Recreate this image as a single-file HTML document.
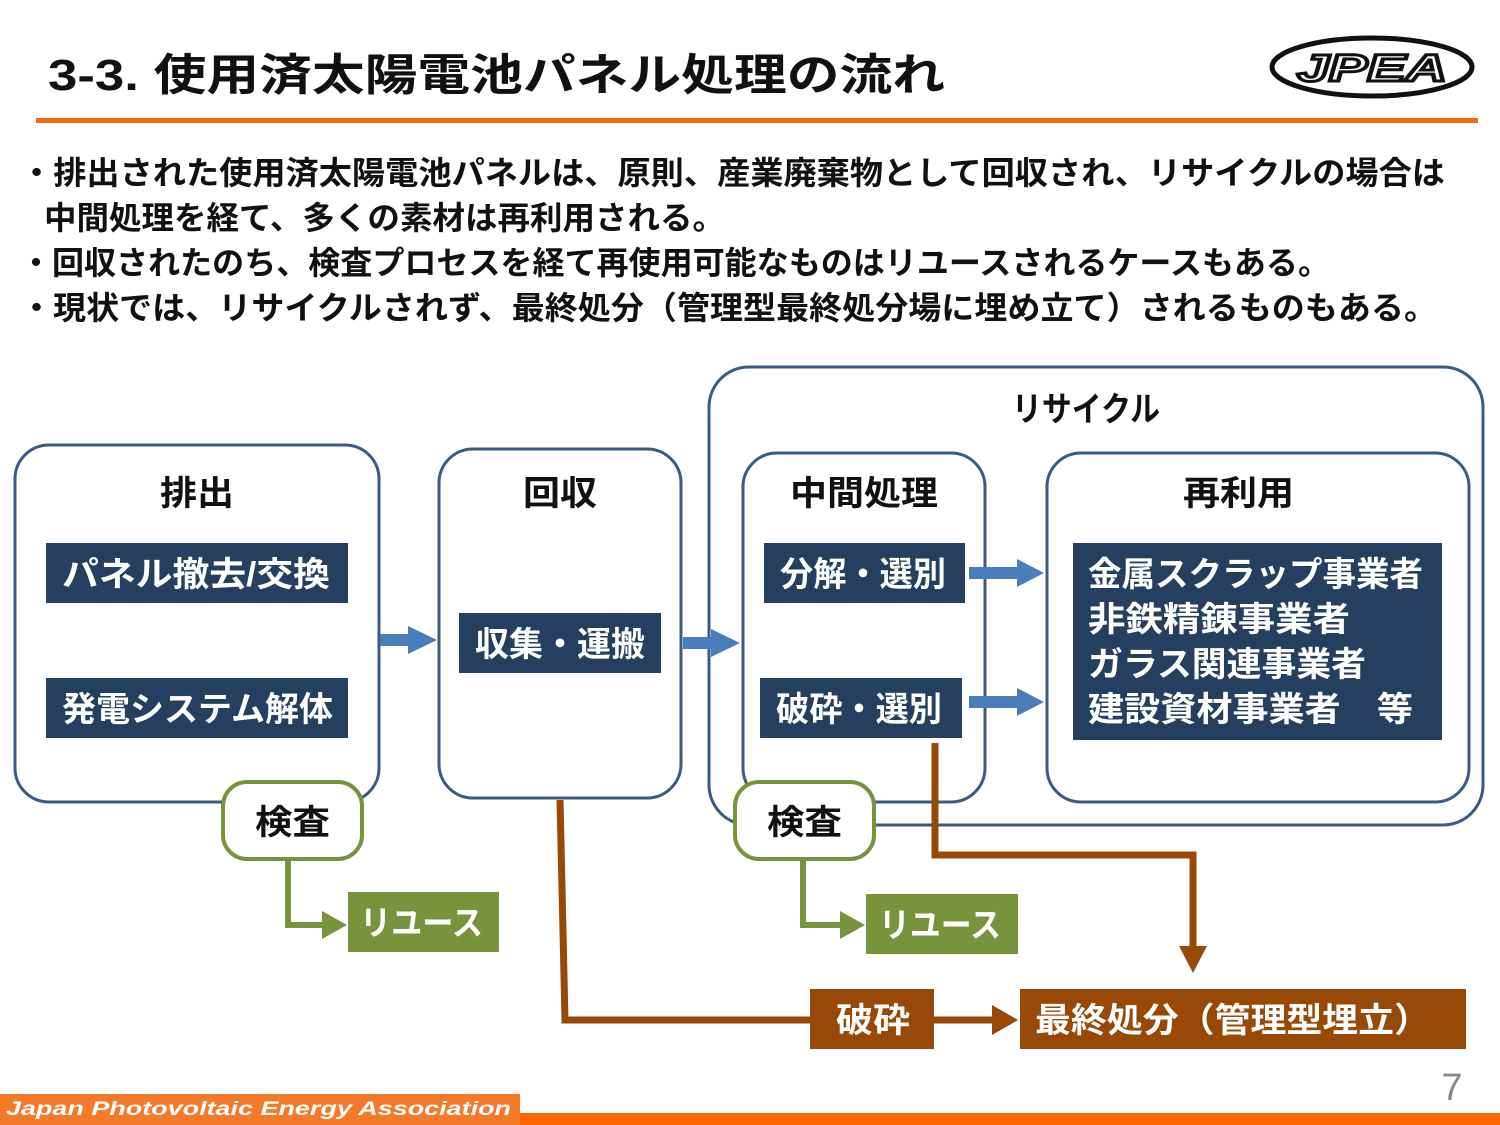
<!DOCTYPE html>
<html><head><meta charset="utf-8"><style>
body{margin:0;width:1500px;height:1125px;overflow:hidden;background:#fff;font-family:"Liberation Sans","Noto Sans CJK JP",sans-serif;}
</style></head><body>
<svg width="1500" height="1125" viewBox="0 0 1500 1125" xmlns="http://www.w3.org/2000/svg" style="position:absolute;left:0;top:0" font-family="Liberation Sans, Noto Sans CJK JP, sans-serif" font-weight="bold">
<text x="48" y="90" font-size="44" fill="#111" textLength="897" lengthAdjust="spacingAndGlyphs">3-3.  使用済太陽電池パネル処理の流れ</text>
<ellipse cx="1372" cy="67" rx="100" ry="29" fill="#fff" stroke="#111" stroke-width="5"/>
<text x="1372" y="81" font-size="38" text-anchor="middle" font-style="italic" fill="#fff" stroke="#111" stroke-width="3" font-family="Liberation Sans, sans-serif" textLength="150" lengthAdjust="spacingAndGlyphs">JPEA</text>
<rect x="36" y="118" width="1442" height="5" fill="#f26b0f"/>
<g font-size="32" fill="#111">
<text x="20" y="184" textLength="1425" lengthAdjust="spacingAndGlyphs">・排出された使用済太陽電池パネルは、原則、産業廃棄物として回収され、リサイクルの場合は</text>
<text x="44" y="229" textLength="681" lengthAdjust="spacingAndGlyphs">中間処理を経て、多くの素材は再利用される。</text>
<text x="20" y="274" textLength="1310" lengthAdjust="spacingAndGlyphs">・回収されたのち、検査プロセスを経て再使用可能なものはリユースされるケースもある。</text>
<text x="20" y="319" textLength="1417" lengthAdjust="spacingAndGlyphs">・現状では、リサイクルされず、最終処分（管理型最終処分場に埋め立て）されるものもある。</text>
</g>
<g fill="#fff" stroke="#3b5a84" stroke-width="3">
<rect x="709" y="367" width="774" height="458" rx="40"/>
<rect x="15" y="445" width="364" height="357" rx="34"/>
<rect x="439" y="449" width="242" height="349" rx="34"/>
<rect x="743" y="453" width="242" height="349" rx="34"/>
<rect x="1047" y="453" width="422" height="349" rx="34"/>
</g>
<g font-size="34" fill="#111">
<text x="1012" y="421" textLength="148" lengthAdjust="spacingAndGlyphs">リサイクル</text>
<text x="160" y="505" textLength="74" lengthAdjust="spacingAndGlyphs">排出</text>
<text x="523" y="505" textLength="74" lengthAdjust="spacingAndGlyphs">回収</text>
<text x="790" y="505" textLength="148" lengthAdjust="spacingAndGlyphs">中間処理</text>
<text x="1183" y="505" textLength="111" lengthAdjust="spacingAndGlyphs">再利用</text>
</g>
<g fill="#243f60">
<rect x="46" y="543" width="302" height="60"/>
<rect x="46" y="678" width="302" height="60"/>
<rect x="459" y="613" width="202" height="60"/>
<rect x="764" y="543" width="201" height="60"/>
<rect x="760" y="678" width="202" height="60"/>
<rect x="1073" y="543" width="369" height="197"/>
</g>
<g font-size="34" fill="#fff">
<text x="62" y="586" textLength="268" lengthAdjust="spacingAndGlyphs">パネル撤去/交換</text>
<text x="62" y="721" textLength="271" lengthAdjust="spacingAndGlyphs">発電システム解体</text>
<text x="475" y="656" textLength="170" lengthAdjust="spacingAndGlyphs">収集・運搬</text>
<text x="780" y="586" textLength="166" lengthAdjust="spacingAndGlyphs">分解・選別</text>
<text x="776" y="721" textLength="166" lengthAdjust="spacingAndGlyphs">破砕・選別</text>
<text x="1088" y="586" textLength="335" lengthAdjust="spacingAndGlyphs">金属スクラップ事業者</text>
<text x="1088" y="631" textLength="262" lengthAdjust="spacingAndGlyphs">非鉄精錬事業者</text>
<text x="1088" y="676" textLength="278" lengthAdjust="spacingAndGlyphs">ガラス関連事業者</text>
<text x="1088" y="721" textLength="325" lengthAdjust="spacingAndGlyphs">建設資材事業者　等</text>
</g>
<g fill="#4a7ebb">
<rect x="380" y="634" width="30" height="12"/><polygon points="408,626 437,640 408,654"/>
<rect x="683" y="637" width="30" height="12"/><polygon points="711,629 740,643 711,657"/>
<rect x="969" y="567" width="50" height="12"/><polygon points="1017,559 1044,573 1017,587"/>
<rect x="969" y="696" width="50" height="12"/><polygon points="1017,688 1044,702 1017,716"/>
</g>
<g fill="none" stroke="#77933c" stroke-width="6">
<polyline points="288,860 288,925 325,925"/>
<polyline points="803,860 803,925 843,925"/>
</g>
<g fill="#77933c">
<polygon points="322,911 347,925 322,939"/>
<polygon points="840,911 865,925 840,939"/>
<rect x="348" y="892" width="151" height="60"/>
<rect x="866" y="894" width="152" height="60"/>
</g>
<g fill="#fff" stroke="#77933c" stroke-width="4">
<rect x="223" y="782" width="139" height="77" rx="24"/>
<rect x="735" y="782" width="139" height="77" rx="24"/>
</g>
<g font-size="34">
<text x="255" y="834" fill="#111" textLength="75" lengthAdjust="spacingAndGlyphs">検査</text>
<text x="767" y="834" fill="#111" textLength="75" lengthAdjust="spacingAndGlyphs">検査</text>
<text x="360" y="935" fill="#fff" textLength="123" lengthAdjust="spacingAndGlyphs">リユース</text>
<text x="879" y="937" fill="#fff" textLength="122" lengthAdjust="spacingAndGlyphs">リユース</text>
</g>
<g fill="none" stroke="#984807" stroke-width="7">
<polyline points="560,800 565,1020 810,1020"/>
<polyline points="935,743 935,855 1193,855 1193,950"/>
<line x1="934" y1="1020" x2="995" y2="1020"/>
</g>
<g fill="#984807">
<polygon points="992,1005 1018,1020 992,1035"/>
<polygon points="1179,946 1207,946 1193,973"/>
<rect x="810" y="989" width="124" height="60"/>
<rect x="1020" y="989" width="446" height="60"/>
</g>
<g font-size="34" fill="#fff">
<text x="836" y="1032" textLength="74" lengthAdjust="spacingAndGlyphs">破砕</text>
<text x="1035" y="1032" textLength="395" lengthAdjust="spacingAndGlyphs">最終処分（管理型埋立）</text>
</g>
<text x="1452" y="1100" font-size="38" font-weight="normal" fill="#888" text-anchor="middle">7</text>
<rect x="0" y="1094" width="520" height="31" fill="#f47a2a"/>
<rect x="520" y="1113" width="980" height="12" fill="#ff6600"/>
<text x="6" y="1115" font-size="19" font-style="italic" fill="#fff" textLength="505" lengthAdjust="spacingAndGlyphs">Japan Photovoltaic Energy Association</text>
</svg>
</body></html>
